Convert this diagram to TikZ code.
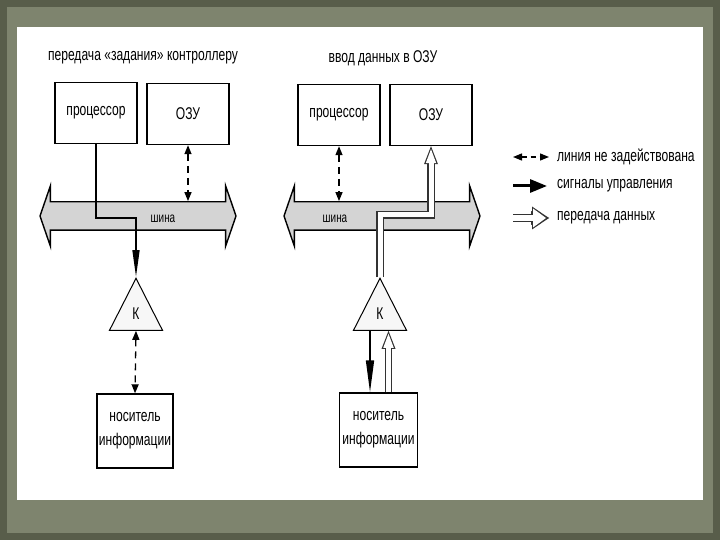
\documentclass[tikz,border=0pt]{standalone}
\usepackage{fontspec}
\setmainfont{Liberation Sans}[FakeStretch=0.71]
\usetikzlibrary{arrows.meta,shapes.geometric,shapes.arrows}

\definecolor{frameolive}{RGB}{88,93,74}
\definecolor{framelight}{RGB}{126,132,110}
\definecolor{busgray}{RGB}{212,212,212}

\begin{document}
\begin{tikzpicture}[
    x=1pt, y=-1pt,
    font=\fontsize{17}{24}\selectfont,
    block/.style={rectangle, draw, line width=1.4pt, minimum width=82pt, minimum height=61pt, inner sep=0pt, align=center},
    bus/.style={double arrow, draw, line width=1.4pt, fill=busgray, minimum height=196pt, double arrow head extend=16pt, double arrow tip angle=142, inner xsep=0pt, inner ysep=13.5pt},
    ktri/.style={isosceles triangle, isosceles triangle stretches, shape border rotate=90, draw, line width=1pt, fill=gray!6, minimum width=53pt, minimum height=52pt, inner sep=0pt},
    ctrl/.style={line width=1.6pt, -{Triangle[length=27pt,width=7pt]}},
    idle/.style={line width=1.3pt, dash pattern=on 7pt off 5pt, {Triangle[length=9pt,width=7pt]}-{Triangle[length=9pt,width=7pt]}},
    data/.style={line width=5pt, draw=white, line join=miter, -{Triangle[length=14pt,width=10.5pt,line width=0pt]}, shorten >=3pt,
        preaction={draw=black!80, line width=7.2pt, -{Triangle[length=18pt,width=14pt,line width=0pt]}, shorten >=0pt}},
    legtext/.style={anchor=west, inner sep=0pt}
]

% frame and sheet
\fill[frameolive] (0,0) rectangle (720,540);
\fill[framelight] (7,7) rectangle (713,533);
\fill[white] (17,27) rectangle (703,500);

% left diagram
\node (title1) at (143,58) {передача «задания» контроллеру};
\node[block] (proc1) at (96,113) {процессор};
\node[block] (ozu1) at (188,114) {ОЗУ};
\node[bus] (bus1) at (138,216) {};
\node[font=\fontsize{14}{16}\selectfont] (shina1) at (163,219) {шина};
\node[ktri, anchor=apex] (k1) at (136,277) {К};
\node[block, minimum width=76pt, minimum height=74pt] (nos1) at (135,431) {носитель\\информации};

% right diagram
\node (title2) at (383,58) {ввод данных в ОЗУ};
\node[block] (proc2) at (339,115) {процессор};
\node[block] (ozu2) at (431,115) {ОЗУ};
\node[bus] (bus2) at (382,216) {};
\node[font=\fontsize{14}{16}\selectfont] (shina2) at (335,219) {шина};
\node[ktri, anchor=apex] (k2) at (380,277) {К};
\node[block, minimum width=78pt, minimum height=74pt] (nos2) at (378.5,430) {носитель\\информации};

% left connections
\draw[ctrl] (proc1.south) -- ++(0,74) -| (k1.apex);
\draw[idle] (ozu1.south) -- (ozu1.south |- bus1.north);
\draw[idle] (k1.south) -- (nos1.north);

% right connections
\draw[idle] (proc2.south) -- (proc2.south |- bus2.north);
\draw[data] (k2.apex) -- ++(0,-62) -| (ozu2.south);
\draw[ctrl, -{Triangle[length=32pt,width=8pt]}] ([xshift=-10pt]k2.south) -- ([xshift=-10pt]k2.south |- nos2.north);
\draw[data] ([xshift=10pt]nos2.north) -- ([xshift=10pt]nos2.north |- k2.south);

% legend
\coordinate (l1a) at (513,157);
\coordinate (l1b) at (549,157);
\coordinate (l2a) at (513,186);
\coordinate (l2b) at (547,186);
\coordinate (l3a) at (513,218);
\coordinate (l3b) at (549,218);
\draw[idle, dash pattern=on 5pt off 4pt] (l1a) -- (l1b);
\draw[line width=3pt, -{Triangle[length=17pt,width=13pt]}] (l2a) -- (l2b);
\draw[data, line width=6pt, -{Triangle[length=13pt,width=19pt,line width=0pt]}, shorten >=3pt,
    preaction={draw=black!80, line width=8.2pt, -{Triangle[length=17pt,width=23pt,line width=0pt]}, shorten >=0pt}] (l3a) -- (l3b);
\node[legtext] (leg1) at (557,157) {линия не задействована};
\node[legtext] (leg2) at (557,186) {сигналы управления};
\node[legtext] (leg3) at (557,218) {передача данных};

\end{tikzpicture}
\end{document}
